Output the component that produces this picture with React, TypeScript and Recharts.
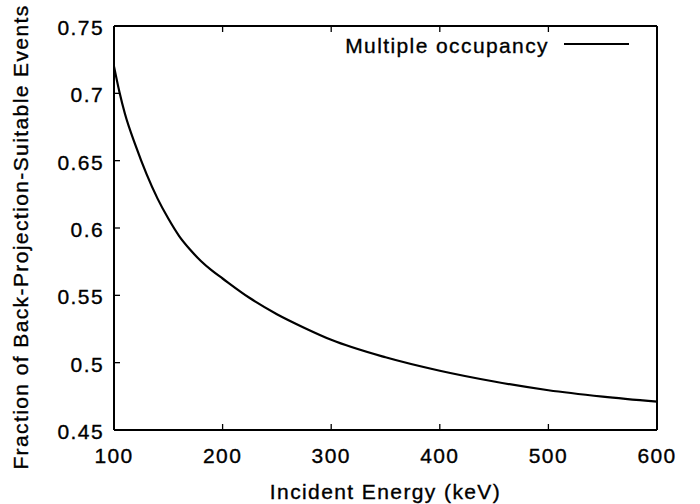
import React from 'react'
import { LineChart, Line, XAxis, YAxis, Legend } from 'recharts'

const energies = [100, 105, 110, 120, 130, 140, 150, 160, 170, 180, 190, 200, 225, 250, 275, 300, 350, 400, 450, 500, 550, 600]
const fraction = [0.72, 0.701, 0.685, 0.661, 0.64, 0.622, 0.607, 0.594, 0.584, 0.5755, 0.5685, 0.5625, 0.548, 0.536, 0.526, 0.517, 0.504, 0.494, 0.486, 0.4795, 0.4748, 0.471]
const xTicks = [100, 200, 300, 400, 500, 600]
const yTicks = [0.45, 0.5, 0.55, 0.6, 0.65, 0.7, 0.75]
const seriesName = 'Multiple occupancy'
const xTitle = 'Incident Energy (keV)'
const yTitle = 'Fraction of Back-Projection-Suitable Events'

const data = energies.map((e, i) => ({ energy: e, value: fraction[i] }))

const axisLine = { stroke: '#000', strokeWidth: 2 }
const TICK_LEN = 6
const X_GAP = 18
const Y_GAP = 10
const tickColor = '#000'
const textStyle = { fontSize: 21, fill: '#000', stroke: '#000', strokeWidth: 0.35 }

// gnuplot style: tick marks point into the plot, labels stay outside
function BottomTick(props: any) {
  const { x, y, payload } = props
  const y0 = y - X_GAP
  return (
    <g>
      <line x1={x} x2={x} y1={y0} y2={y0 - TICK_LEN} stroke={tickColor} strokeWidth={1.3} />
      <text x={x} y={y} dy="0.71em" textAnchor="middle" {...textStyle}>
        {String(payload.value)}
      </text>
    </g>
  )
}

function LeftTick(props: any) {
  const { x, y, payload } = props
  const x0 = x + Y_GAP
  return (
    <g>
      <line x1={x0} x2={x0 + TICK_LEN} y1={y} y2={y} stroke={tickColor} strokeWidth={1.3} />
      <text x={x} y={y + 1.5} dy="0.355em" textAnchor="end" {...textStyle}>
        {String(payload.value)}
      </text>
    </g>
  )
}

function TopTick(props: any) {
  const { x, y } = props
  return <line x1={x} x2={x} y1={y} y2={y + TICK_LEN} stroke={tickColor} strokeWidth={1.3} />
}

function RightTick(props: any) {
  const { x, y } = props
  return <line x1={x} x2={x - TICK_LEN} y1={y} y2={y} stroke={tickColor} strokeWidth={1.3} />
}

function LegendBox(props: any) {
  const item = props.payload && props.payload[0]
  return (
    <div style={{ position: 'relative', width: 700, height: 60 }}>
      <span
        style={{
          position: 'absolute',
          right: 700 - 549,
          top: 35,
          fontSize: 21,
          lineHeight: '21px',
          whiteSpace: 'nowrap',
          color: '#000',
          WebkitTextStroke: '0.35px #000',
        }}
      >
        {item ? item.value : seriesName}
      </span>
      <div style={{ position: 'absolute', left: 564, top: 43, width: 65, height: 2, background: '#000' }} />
    </div>
  )
}

export default function App() {
  return (
    <div
      style={{
        position: 'absolute',
        left: 0,
        top: 0,
        width: 700,
        height: 504,
        background: '#fff',
        fontFamily: '"Liberation Sans", Arial, sans-serif',
        letterSpacing: '1.4px',
      }}
    >
      <LineChart width={700} height={504} data={data} margin={{ top: 25, right: 42, bottom: 73, left: 0 }}>
        <XAxis
          xAxisId="b"
          dataKey="energy"
          type="number"
          domain={[100, 600]}
          ticks={xTicks}
          height={1}
          axisLine={axisLine}
          tickLine={false}
          tickSize={0}
          tickMargin={X_GAP}
          tick={<BottomTick />}
          label={(p: any) => {
            const vb = p.viewBox
            return (
              <text x={vb.x + vb.width / 2} y={499} textAnchor="middle" {...textStyle}>
                {xTitle}
              </text>
            )
          }}
        />
        <XAxis
          xAxisId="t"
          orientation="top"
          dataKey="energy"
          type="number"
          domain={[100, 600]}
          ticks={xTicks}
          height={1}
          axisLine={axisLine}
          tickLine={false}
          tickSize={0}
          tickMargin={0}
          tick={<TopTick />}
        />
        <YAxis
          yAxisId="l"
          type="number"
          domain={[0.45, 0.75]}
          ticks={yTicks}
          width={114}
          axisLine={axisLine}
          tickLine={false}
          tickSize={0}
          tickMargin={Y_GAP}
          tick={<LeftTick />}
          label={() => (
            <text x={28} y={237} transform="rotate(-90, 28, 237)" textAnchor="middle" {...textStyle}>
              {yTitle}
            </text>
          )}
        />
        <YAxis
          yAxisId="r"
          orientation="right"
          type="number"
          domain={[0.45, 0.75]}
          ticks={yTicks}
          width={1}
          axisLine={axisLine}
          tickLine={false}
          tickSize={0}
          tickMargin={0}
          tick={<RightTick />}
        />
        <Legend
          layout="vertical"
          align="center"
          verticalAlign="middle"
          wrapperStyle={{ top: 0, left: 0, width: 700, height: 60 }}
          content={LegendBox}
        />
        <Line
          xAxisId="b"
          yAxisId="l"
          name={seriesName}
          dataKey="value"
          type="monotone"
          stroke="#000"
          strokeWidth={2.2}
          dot={false}
          activeDot={false}
          isAnimationActive={false}
        />
      </LineChart>
    </div>
  )
}
